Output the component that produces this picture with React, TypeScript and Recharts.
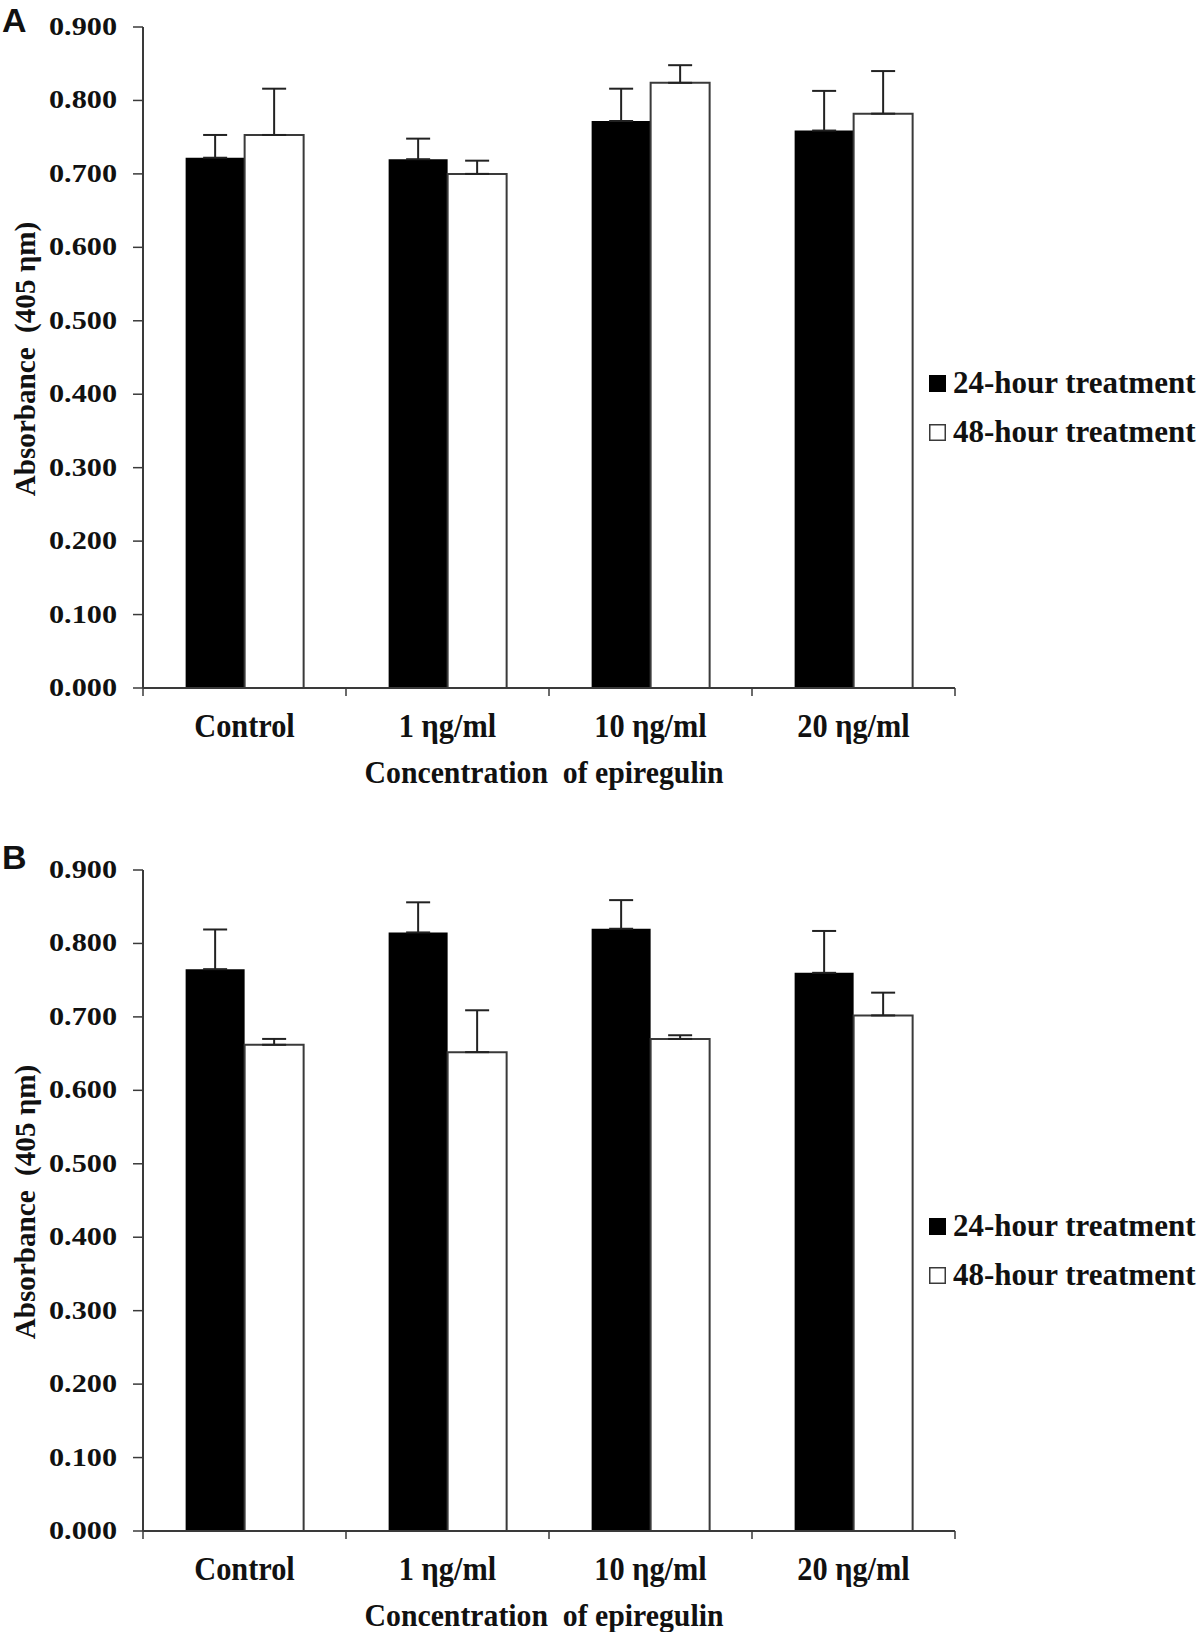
import React from 'react';
import { BarChart, Bar, XAxis, YAxis, ErrorBar } from 'recharts';

const categories = ['Control', '1 ηg/ml', '10 ηg/ml', '20 ηg/ml'];
const seriesNames = ['24-hour treatment', '48-hour treatment'];
const yTicks = [0, 0.1, 0.2, 0.3, 0.4, 0.5, 0.6, 0.7, 0.8, 0.9];

// panel A
const a24 = [0.722, 0.720, 0.772, 0.759];
const a24err = [0.031, 0.028, 0.044, 0.054];
const a48 = [0.753, 0.700, 0.824, 0.782];
const a48err = [0.063, 0.018, 0.024, 0.058];

// panel B
const b24 = [0.765, 0.815, 0.820, 0.760];
const b24err = [0.054, 0.041, 0.039, 0.057];
const b48 = [0.662, 0.652, 0.670, 0.702];
const b48err = [0.008, 0.057, 0.005, 0.031];

const SERIF = "'Liberation Serif', 'Times New Roman', serif";
const SANS = "'Liberation Sans', Arial, sans-serif";
const INK = '#111';
const LINE = '#3a3a3a';
const ERR = '#222';

const W = 1200;
const H = 800;

function buildRows(s24: number[], e24: number[], s48: number[], e48: number[]) {
  // error bars only go up, like the original
  return categories.map((name, i) => ({
    name,
    h24: s24[i],
    h24err: [0, e24[i]],
    h48: s48[i],
    h48err: [0, e48[i]],
  }));
}

const YTick = (props: any) => {
  const { x, y, payload } = props;
  return (
    <text
      x={x}
      y={y}
      dy={8}
      textAnchor="end"
      fontSize={25}
      fontWeight="bold"
      fontFamily={SERIF}
      fill={INK}
      textLength={68}
      lengthAdjust="spacingAndGlyphs"
    >
      {Number(payload.value).toFixed(3)}
    </text>
  );
};

const XTick = (props: any) => {
  const { x, y, payload, index, visibleTicksCount, width } = props;
  const band = width && visibleTicksCount ? width / visibleTicksCount : 203;
  const last = index === visibleTicksCount - 1;
  return (
    <g>
      <line x1={x - band / 2} x2={x - band / 2} y1={y} y2={y + 8} stroke={LINE} strokeWidth={1.5} />
      {last && <line x1={x + band / 2} x2={x + band / 2} y1={y} y2={y + 8} stroke={LINE} strokeWidth={1.5} />}
      <g transform={`translate(${x},${y + 48.5})`}>
        <text transform="scale(0.92,1)" textAnchor="middle" fontSize={33} fontWeight="bold" fontFamily={SERIF} fill={INK}>
          {payload.value}
        </text>
      </g>
    </g>
  );
};

const XTitle = (props: any) => {
  const vb = props.viewBox || { x: 143, y: 688, width: 812 };
  const cx = vb.x + vb.width / 2 - 5;
  return (
    <g transform={`translate(${cx},${vb.y + 95})`}>
      <text transform="scale(0.93,1)" textAnchor="middle" fontSize={32} fontWeight="bold" fontFamily={SERIF} fill={INK} style={{ whiteSpace: 'pre' }}>
        {'Concentration  of epiregulin'}
      </text>
    </g>
  );
};

interface PanelProps {
  letter: string;
  letterY: number;
  top: number;
  s24: number[];
  e24: number[];
  s48: number[];
  e48: number[];
}

function Panel({ letter, letterY, top, s24, e24, s48, e48 }: PanelProps) {
  const data = buildRows(s24, e24, s48, e48);
  return (
    <div style={{ position: 'absolute', left: 0, top, width: W, height: H }}>
      <BarChart width={W} height={H} data={data} margin={{ top: 27, right: 245, left: 0, bottom: 0 }} barCategoryGap="21%" barGap={0}>
        <XAxis
          dataKey="name"
          height={112}
          tickLine={false}
          tickSize={0}
          tickMargin={0}
          axisLine={{ stroke: LINE, strokeWidth: 2 }}
          tick={<XTick />}
          interval={0}
          label={<XTitle />}
        />
        <YAxis
          type="number"
          domain={[0, 0.9]}
          ticks={yTicks}
          width={143}
          tickSize={10}
          tickMargin={16}
          tickLine={{ stroke: LINE, strokeWidth: 1.5 }}
          axisLine={{ stroke: LINE, strokeWidth: 2 }}
          tick={<YTick />}
          interval={0}
        />
        <Bar dataKey="h24" name={seriesNames[0]} fill="#000" isAnimationActive={false}>
          <ErrorBar dataKey="h24err" width={12} stroke={ERR} strokeWidth={2} direction="y" />
        </Bar>
        <Bar dataKey="h48" name={seriesNames[1]} fill="#fff" stroke={LINE} strokeWidth={2} isAnimationActive={false}>
          <ErrorBar dataKey="h48err" width={12} stroke={ERR} strokeWidth={2} direction="y" />
        </Bar>
      </BarChart>
      <svg width={W} height={H} style={{ position: 'absolute', left: 0, top: 0, pointerEvents: 'none', overflow: 'visible' }}>
        <text x={2} y={letterY} fontSize={34} fontWeight="bold" fontFamily={SANS} fill={INK}>
          {letter}
        </text>
        <g transform="translate(35,359) rotate(-90)">
          <text transform="scale(0.97,1)" textAnchor="middle" fontSize={30} fontWeight="bold" fontFamily={SERIF} fill={INK} style={{ whiteSpace: 'pre' }}>
            {'Absorbance  (405 ηm)'}
          </text>
        </g>
        <rect x={929} y={375} width={17} height={17} fill="#000" />
        <text x={953} y={393} fontSize={31} fontWeight="bold" fontFamily={SERIF} fill={INK}>
          {seriesNames[0]}
        </text>
        <rect x={929.75} y={424.75} width={15.5} height={15.5} fill="#fff" stroke={LINE} strokeWidth={1.5} />
        <text x={953} y={442} fontSize={31} fontWeight="bold" fontFamily={SERIF} fill={INK}>
          {seriesNames[1]}
        </text>
      </svg>
    </div>
  );
}

export default function App() {
  return (
    <div style={{ position: 'absolute', left: 0, top: 0, width: 1200, height: 1632, overflow: 'hidden', background: '#fff' }}>
      <Panel letter="A" letterY={32} top={0} s24={a24} e24={a24err} s48={a48} e48={a48err} />
      <Panel letter="B" letterY={26} top={843} s24={b24} e24={b24err} s48={b48} e48={b48err} />
    </div>
  );
}
